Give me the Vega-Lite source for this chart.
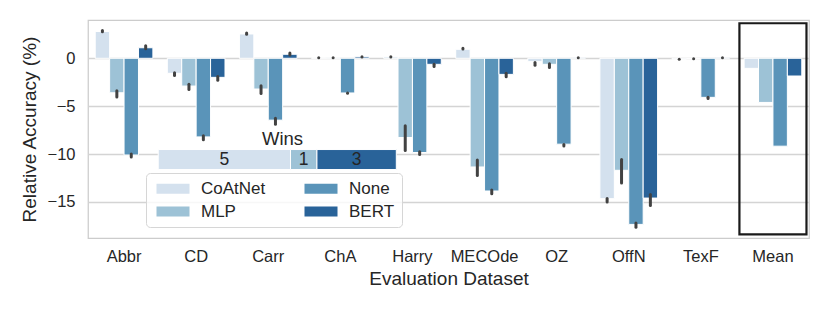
{
  "$schema": "https://vega.github.io/schema/vega-lite/v6.json",
  "width": 721,
  "height": 218,
  "autosize": {"type": "none"},
  "padding": {"left": 88, "top": 20, "right": 21, "bottom": 74},
  "background": "white",
  "config": {
    "font": "Liberation Sans",
    "view": {"stroke": "#cccccc", "strokeWidth": 1.25},
    "axis": {"labelColor": "#262626", "titleColor": "#262626", "titleFontWeight": "normal", "domain": false, "ticks": false}
  },
  "datasets": {
    "acc": [
      {"dataset": "Abbr", "model": "CoAtNet", "value": 2.8, "lo": 2.78, "hi": 2.9},
      {"dataset": "Abbr", "model": "MLP", "value": -3.6, "lo": -3.4, "hi": -4.05},
      {"dataset": "Abbr", "model": "None", "value": -10.1, "lo": -10.0, "hi": -10.3},
      {"dataset": "Abbr", "model": "BERT", "value": 1.1, "lo": 1.0, "hi": 1.3},
      {"dataset": "CD", "model": "CoAtNet", "value": -1.57, "lo": -1.5, "hi": -1.8},
      {"dataset": "CD", "model": "MLP", "value": -2.9, "lo": -2.7, "hi": -3.27},
      {"dataset": "CD", "model": "None", "value": -8.21, "lo": -8.1, "hi": -8.5},
      {"dataset": "CD", "model": "BERT", "value": -1.99, "lo": -1.9, "hi": -2.3},
      {"dataset": "Carr", "model": "CoAtNet", "value": 2.54, "lo": 2.5, "hi": 2.65},
      {"dataset": "Carr", "model": "MLP", "value": -3.21, "lo": -2.88, "hi": -3.68},
      {"dataset": "Carr", "model": "None", "value": -6.46, "lo": -6.27, "hi": -6.9},
      {"dataset": "Carr", "model": "BERT", "value": 0.42, "lo": 0.35, "hi": 0.55},
      {"dataset": "ChA", "model": "CoAtNet", "value": 0.05, "lo": 0.05, "hi": 0.06},
      {"dataset": "ChA", "model": "MLP", "value": 0.05, "lo": 0.05, "hi": 0.06},
      {"dataset": "ChA", "model": "None", "value": -3.62, "lo": -3.62, "hi": -3.66},
      {"dataset": "ChA", "model": "BERT", "value": 0.15, "lo": 0.14, "hi": 0.16},
      {"dataset": "Harry", "model": "CoAtNet", "value": 0.15, "lo": 0.14, "hi": 0.16},
      {"dataset": "Harry", "model": "MLP", "value": -8.27, "lo": -7.04, "hi": -9.62},
      {"dataset": "Harry", "model": "None", "value": -9.84, "lo": -9.76, "hi": -10.04},
      {"dataset": "Harry", "model": "BERT", "value": -0.63, "lo": -0.62, "hi": -0.85},
      {"dataset": "MECOde", "model": "CoAtNet", "value": 0.94, "lo": 0.98, "hi": 1.06},
      {"dataset": "MECOde", "model": "MLP", "value": -11.35, "lo": -10.63, "hi": -12.24},
      {"dataset": "MECOde", "model": "None", "value": -13.86, "lo": -13.76, "hi": -14.14},
      {"dataset": "MECOde", "model": "BERT", "value": -1.68, "lo": -1.56, "hi": -1.94},
      {"dataset": "OZ", "model": "CoAtNet", "value": -0.35, "lo": -0.44, "hi": -0.72},
      {"dataset": "OZ", "model": "MLP", "value": -0.63, "lo": -0.58, "hi": -0.96},
      {"dataset": "OZ", "model": "None", "value": -8.97, "lo": -9.0, "hi": -9.16},
      {"dataset": "OZ", "model": "BERT", "value": 0.05, "lo": 0.05, "hi": 0.06},
      {"dataset": "OffN", "model": "CoAtNet", "value": -14.66, "lo": -14.65, "hi": -15.02},
      {"dataset": "OffN", "model": "MLP", "value": -11.7, "lo": -10.57, "hi": -13.03},
      {"dataset": "OffN", "model": "None", "value": -17.35, "lo": -17.2, "hi": -17.64},
      {"dataset": "OffN", "model": "BERT", "value": -14.6, "lo": -14.23, "hi": -15.38},
      {"dataset": "TexF", "model": "CoAtNet", "value": -0.1, "lo": -0.1, "hi": -0.11},
      {"dataset": "TexF", "model": "MLP", "value": -0.04, "lo": -0.04, "hi": -0.05},
      {"dataset": "TexF", "model": "None", "value": -4.08, "lo": -4.08, "hi": -4.21},
      {"dataset": "TexF", "model": "BERT", "value": 0.05, "lo": 0.05, "hi": 0.06},
      {"dataset": "Mean", "model": "CoAtNet", "value": -1.05, "lo": null, "hi": null},
      {"dataset": "Mean", "model": "MLP", "value": -4.61, "lo": null, "hi": null},
      {"dataset": "Mean", "model": "None", "value": -9.18, "lo": null, "hi": null},
      {"dataset": "Mean", "model": "BERT", "value": -1.85, "lo": null, "hi": null}
    ],
    "wins": [
      {"model": "CoAtNet", "wins": 5},
      {"model": "MLP", "wins": 1},
      {"model": "BERT", "wins": 3}
    ]
  },
  "layer": [
    {
      "data": {"name": "acc"},
      "encoding": {
        "x": {
          "field": "dataset",
          "type": "nominal",
          "sort": null,
          "scale": {"paddingInner": 0, "paddingOuter": 0},
          "axis": {"title": "Evaluation Dataset", "labelAngle": 0, "labelFontSize": 16.5, "titleFontSize": 19, "labelPadding": 10, "titlePadding": 5, "grid": false}
        },
        "xOffset": {
          "field": "model",
          "type": "nominal",
          "sort": ["CoAtNet", "MLP", "None", "BERT"],
          "scale": {"paddingInner": 0, "paddingOuter": 0.5}
        }
      },
      "layer": [
        {
          "mark": {"type": "bar", "stroke": "white", "strokeWidth": 1},
          "encoding": {
            "y": {
              "field": "value",
              "type": "quantitative",
              "scale": {"domain": [-18.77, 4.0], "nice": false, "zero": false},
              "axis": {"title": "Relative Accuracy (%)", "values": [-15, -10, -5, 0], "labelFontSize": 16.5, "titleFontSize": 19, "labelPadding": 13, "titlePadding": 8, "grid": true, "gridColor": "#d4d4d4", "gridWidth": 1.5}
            },
            "color": {
              "field": "model",
              "type": "nominal",
              "scale": {"domain": ["CoAtNet", "MLP", "None", "BERT"], "range": ["#d4e1ee", "#9dc2d6", "#5a94b9", "#296399"]},
              "legend": {
                "title": null,
                "orient": "none",
                "legendX": 58,
                "legendY": 153,
                "columns": 2,
                "padding": 7,
                "strokeColor": "#d6d6d6",
                "fillColor": "rgba(255,255,255,0.8)",
                "cornerRadius": 4,
                "labelFontSize": 17,
                "labelColor": "#262626",
                "labelOffset": 31,
                "symbolType": "M-1,-1h6.6v2h-6.6Z",
                "symbolSize": 100,
                "symbolStrokeWidth": 0,
                "symbolOpacity": 1,
                "columnPadding": 35,
                "rowPadding": 5
              }
            }
          }
        },
        {
          "transform": [{"filter": "datum.lo != null"}],
          "mark": {"type": "rule", "strokeCap": "round", "strokeWidth": 3, "color": "#424242"},
          "encoding": {
            "y": {"field": "lo", "type": "quantitative"},
            "y2": {"field": "hi"}
          }
        },
        {
          "transform": [{"filter": "datum.dataset == 'Mean' && datum.model == 'CoAtNet'"}],
          "mark": {"type": "bar", "filled": false, "stroke": "#1a1a1a", "strokeWidth": 2.2, "width": {"band": 0.93}},
          "encoding": {
            "xOffset": {"value": 0},
            "y": {"datum": 3.66, "type": "quantitative"},
            "y2": {"datum": -18.4}
          }
        }
      ]
    },
    {
      "data": {"name": "wins"},
      "transform": [
        {"window": [{"op": "row_number", "as": "rank"}]},
        {"stack": "wins", "groupby": [], "sort": [{"field": "rank", "order": "ascending"}], "as": ["w0", "w1"]}
      ],
      "layer": [
        {
          "mark": {"type": "bar", "stroke": "white", "strokeWidth": 1},
          "encoding": {
            "x": {"field": "w0", "type": "quantitative", "scale": {"domain": [-2.654, 24.6], "nice": false, "zero": false}, "axis": null},
            "x2": {"field": "w1"},
            "y": {"datum": -9.53, "type": "quantitative"},
            "y2": {"datum": -11.62},
            "color": {"field": "model", "type": "nominal"}
          }
        },
        {
          "transform": [
            {"fold": ["w0", "w1"], "as": ["edge", "pos"]},
            {"aggregate": [{"op": "mean", "field": "pos", "as": "mid"}], "groupby": ["model", "wins"]}
          ],
          "mark": {"type": "text", "fontSize": 17.5, "color": "#262626", "baseline": "middle"},
          "encoding": {
            "x": {"field": "mid", "type": "quantitative", "axis": null},
            "y": {"datum": -10.58, "type": "quantitative"},
            "text": {"field": "wins", "type": "quantitative"}
          }
        },
        {
          "data": {"values": [{"label": "Wins"}]},
          "mark": {"type": "text", "fontSize": 18.5, "color": "#262626", "baseline": "alphabetic"},
          "encoding": {
            "x": {"datum": 4.7, "type": "quantitative", "axis": null},
            "y": {"datum": -9.05, "type": "quantitative"},
            "text": {"field": "label", "type": "nominal"}
          }
        }
      ]
    }
  ],
  "resolve": {"scale": {"x": "independent"}}
}
